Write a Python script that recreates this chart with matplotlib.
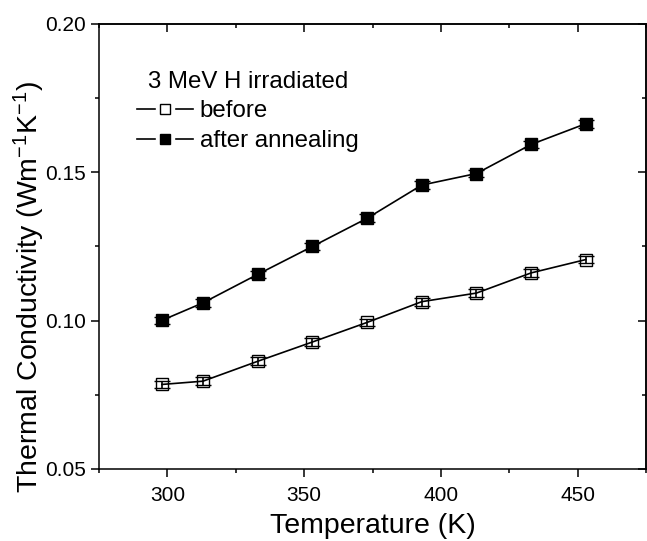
import matplotlib
matplotlib.use("Agg")
import matplotlib.pyplot as plt
from matplotlib.ticker import MultipleLocator, FormatStrFormatter
from matplotlib.lines import Line2D
from matplotlib.legend_handler import HandlerTuple

plt.rcParams['font.family'] = ['Liberation Sans', 'DejaVu Sans']
plt.rcParams['mathtext.fontset'] = 'custom'
plt.rcParams['mathtext.rm'] = 'Liberation Sans'
plt.rcParams['mathtext.it'] = 'Liberation Sans:italic'

# measurement temperatures (K)
temp = [298, 313, 333, 353, 373, 393, 413, 433, 453]

# thermal conductivity (W m^-1 K^-1)
k_before = [0.0785, 0.0796, 0.0863, 0.0928, 0.0994, 0.1064, 0.1093, 0.1161, 0.1206]
k_after = [0.1001, 0.1060, 0.1156, 0.1250, 0.1345, 0.1457, 0.1496, 0.1594, 0.1664]
err_before = [0.0013, 0.0013, 0.0013, 0.0013, 0.0013, 0.0013, 0.0013, 0.0013, 0.0013]
err_after = [0.0013, 0.0013, 0.0013, 0.0013, 0.0013, 0.0013, 0.0013, 0.0013, 0.0013]

fig = plt.figure(figsize=(6.47, 5.41), dpi=100)
ax = fig.add_axes([99/647, 1-469/541, (646-99)/647, (469-24)/541])

ms = 8
lw = 1.2
ax.errorbar(temp, k_before, yerr=err_before, color='black', lw=lw,
            marker='s', ms=ms, mfc='none', mec='black', mew=1.0,
            ecolor='black', elinewidth=lw, capsize=5.5, capthick=1.8, zorder=3)
ax.errorbar(temp, k_after, yerr=err_after, color='black', lw=lw,
            marker='s', ms=ms, mfc='black', mec='black', mew=1.0,
            ecolor='black', elinewidth=lw, capsize=5.5, capthick=1.8, zorder=3)

ax.set_xlim(275, 475)
ax.set_ylim(0.05, 0.20)
ax.xaxis.set_major_locator(MultipleLocator(50))
ax.xaxis.set_minor_locator(MultipleLocator(25))
ax.yaxis.set_major_locator(MultipleLocator(0.05))
ax.yaxis.set_minor_locator(MultipleLocator(0.025))
ax.yaxis.set_major_formatter(FormatStrFormatter('%.2f'))

for s in ax.spines.values():
    s.set_linewidth(1.1)

ax.tick_params(which='both', direction='out', width=1.1, labelsize=15,
               top=False, right=False)
ax.tick_params(which='major', length=6)
ax.tick_params(which='minor', length=3)
ax.tick_params(axis='x', pad=6)

# inward ticks on the top and right edges
top = ax.secondary_xaxis('top')
top.xaxis.set_major_locator(MultipleLocator(50))
top.xaxis.set_minor_locator(MultipleLocator(25))
top.tick_params(which='both', direction='in', labeltop=False, width=1.1)
top.tick_params(which='major', length=6)
top.tick_params(which='minor', length=3)
right = ax.secondary_yaxis('right')
right.yaxis.set_major_locator(MultipleLocator(0.05))
right.yaxis.set_minor_locator(MultipleLocator(0.025))
right.tick_params(which='both', direction='in', labelright=False, width=1.1)
right.tick_params(which='major', length=6)
right.tick_params(which='minor', length=3)
for sec in (top, right):
    for s in sec.spines.values():
        s.set_linewidth(1.1)

ax.set_xlabel('Temperature (K)', fontsize=20.5, labelpad=6)
ax.set_ylabel(r'Thermal Conductivity (Wm$^{\mathregular{-1}}$K$^{\mathregular{-1}}$)',
              fontsize=20.5)
ax.yaxis.set_label_coords(-0.095, 0.41)

# legend handles: line broken around the marker
def handle(face):
    ln = Line2D([], [], color='black', lw=lw)
    gap = Line2D([], [], ls='none', marker='s', ms=13, mfc='white', mec='white')
    mk = Line2D([], [], ls='none', marker='s', ms=7, mfc=face, mec='black', mew=1.0)
    return (ln, gap, mk)

leg = ax.legend([handle('white'), handle('black')], ['before', 'after annealing'],
                handler_map={tuple: HandlerTuple(ndivide=1, pad=0)},
                title='3 MeV H irradiated', title_fontsize=17.3, fontsize=17.3,
                frameon=False, loc='upper left', bbox_to_anchor=(0.07, 0.895),
                handlelength=2.3, handletextpad=0.3, labelspacing=0.32,
                borderaxespad=0, borderpad=0)

fig.savefig('out.png', dpi=100)
